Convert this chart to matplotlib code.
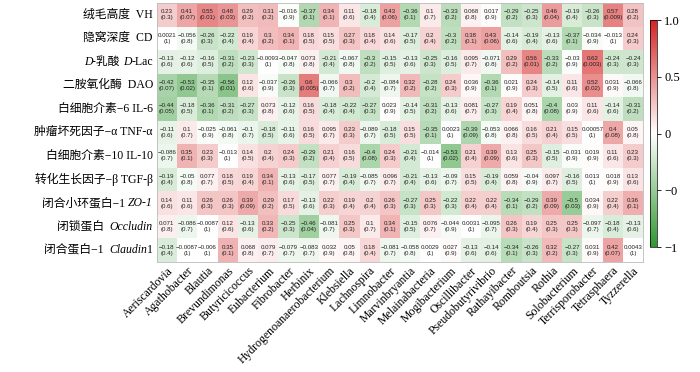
import numpy as np
import matplotlib
matplotlib.use("Agg")
import matplotlib.pyplot as plt
from matplotlib.colors import LinearSegmentedColormap
from matplotlib.offsetbox import TextArea, HPacker, AnnotationBbox

genera = ["Aeriscardovia", "Agathobacter", "Blautia", "Brevundimonas", "Butyricicoccus",
          "Eubacterium", "Fibrobacter", "Herbinix", "Hydrogenoanaerobacterium", "Klebsiella",
          "Lachnospira", "Limnobacter", "Marvinbryantia", "Melainabacteria", "Mogibacterium",
          "Oscillibacter", "Pseudobutyrivibrio", "Rathayibacter", "Romboutsia", "Rothia",
          "Solobacterium", "Terrisporobacter", "Tetrasphaera", "Tyzzerella"]

# (text, italic) pieces for each row label
indices = [
    [("绒毛高度  VH", False)],
    [("隐窝深度  CD", False)],
    [("D", True), ("-乳酸 ", False), ("D", True), ("-Lac", False)],
    [("二胺氧化酶  DAO", False)],
    [("白细胞介素−6 IL-6", False)],
    [("肿瘤坏死因子−α TNF-α", False)],
    [("白细胞介素−10 IL-10", False)],
    [("转化生长因子−β TGF-β", False)],
    [("闭合小环蛋白−1 ", False), ("ZO-1", True)],
    [("闭锁蛋白  ", False), ("Occludin", True)],
    [("闭合蛋白−1  ", False), ("Claudin", True), ("1", False)],
]

r_vh = [0.23, 0.41, 0.55, 0.48, 0.29, 0.31, -0.016, -0.37, 0.34, 0.11, -0.18, 0.43,
        -0.36, 0.1, -0.33, 0.068, 0.017, -0.29, -0.25, 0.46, -0.19, -0.26, 0.57, 0.28]
p_vh = ["0.3", "0.07", "0.01", "0.03", "0.2", "0.2", "0.9", "0.1", "0.1", "0.6", "0.4", "0.06",
        "0.1", "0.7", "0.2", "0.8", "0.9", "0.2", "0.3", "0.04", "0.4", "0.3", "0.009", "0.2"]
r_cd = [0.0021, -0.056, -0.26, -0.22, 0.19, 0.3, 0.34, 0.18, 0.15, 0.27, 0.18, 0.14,
        -0.17, 0.2, -0.3, 0.38, 0.43, -0.14, -0.19, -0.13, -0.37, -0.034, -0.013, 0.24]
p_cd = ["1", "0.8", "0.3", "0.4", "0.4", "0.2", "0.1", "0.5", "0.5", "0.3", "0.4", "0.6",
        "0.5", "0.4", "0.2", "0.1", "0.06", "0.6", "0.4", "0.6", "0.1", "0.9", "1", "0.3"]
r_lac = [-0.13, -0.12, -0.16, -0.31, -0.23, -0.0093, -0.047, 0.073, -0.21, -0.067, -0.3, -0.15,
         -0.13, -0.25, -0.16, 0.095, -0.071, 0.29, 0.56, -0.33, -0.03, 0.62, -0.24, -0.24]
p_lac = ["0.6", "0.6", "0.5", "0.2", "0.3", "1", "0.8", "0.8", "0.4", "0.8", "0.2", "0.5",
         "0.6", "0.3", "0.5", "0.7", "0.8", "0.2", "0.01", "0.2", "0.9", "0.003", "0.3", "0.3"]
r_dao = [-0.42, -0.53, -0.35, -0.56, 0.12, -0.037, -0.26, 0.6, -0.066, 0.3, -0.2, -0.084,
         0.32, -0.28, 0.24, 0.036, -0.36, 0.021, 0.24, -0.14, 0.11, 0.52, 0.031, -0.066]
p_dao = ["0.07", "0.02", "0.1", "0.01", "0.6", "0.9", "0.3", "0.005", "0.7", "0.2", "0.4", "0.7",
         "0.2", "0.2", "0.3", "0.9", "0.1", "0.9", "0.3", "0.5", "0.6", "0.02", "0.9", "0.8"]
r_il6 = [-0.44, -0.18, -0.36, -0.31, -0.27, 0.073, -0.12, 0.16, -0.18, -0.22, -0.27, 0.023,
         -0.14, -0.31, -0.13, 0.081, -0.27, 0.19, 0.051, -0.4, 0.03, 0.11, -0.14, -0.31]
p_il6 = ["0.05", "0.5", "0.1", "0.2", "0.3", "0.8", "0.6", "0.5", "0.4", "0.4", "0.3", "0.9",
         "0.5", "0.2", "0.6", "0.7", "0.3", "0.4", "0.8", "0.08", "0.9", "0.6", "0.6", "0.2"]
r_tnf = [-0.11, 0.1, -0.025, -0.061, -0.1, -0.18, -0.11, 0.16, 0.095, 0.23, -0.089, -0.18,
         0.15, -0.35, 0.0023, -0.39, -0.053, 0.066, 0.16, 0.21, 0.15, 0.00057, 0.4, 0.05]
p_tnf = ["0.6", "0.7", "0.9", "0.8", "0.7", "0.5", "0.6", "0.5", "0.7", "0.3", "0.7", "0.5",
         "0.5", "0.1", "1", "0.09", "0.8", "0.8", "0.5", "0.4", "0.5", "1", "0.08", "0.8"]
r_il10 = [-0.086, 0.35, 0.23, -0.013, 0.14, 0.2, 0.24, -0.29, 0.21, 0.16, -0.4, 0.24,
          -0.21, -0.014, -0.53, 0.21, 0.39, 0.13, 0.25, -0.15, -0.031, 0.019, 0.11, 0.23]
p_il10 = ["0.7", "0.1", "0.3", "1", "0.5", "0.4", "0.3", "0.2", "0.4", "0.5", "0.08", "0.3",
          "0.4", "1", "0.02", "0.4", "0.09", "0.6", "0.3", "0.5", "0.9", "0.9", "0.6", "0.3"]
r_tgf = [-0.19, -0.05, 0.077, 0.18, 0.19, 0.34, -0.13, -0.17, 0.077, -0.19, -0.085, 0.096,
         -0.21, -0.13, -0.09, 0.15, -0.19, 0.059, -0.04, 0.097, -0.16, 0.013, 0.018, 0.13]
p_tgf = ["0.4", "0.8", "0.7", "0.5", "0.4", "0.1", "0.6", "0.5", "0.7", "0.4", "0.7", "0.7",
         "0.4", "0.6", "0.7", "0.5", "0.4", "0.8", "0.9", "0.7", "0.5", "1", "0.9", "0.6"]
r_zo1 = [0.14, 0.11, 0.26, 0.26, 0.39, 0.29, 0.17, -0.13, 0.22, 0.19, 0.2, 0.26,
         -0.27, 0.25, -0.22, 0.22, 0.22, -0.34, -0.29, 0.39, -0.5, 0.034, 0.22, 0.36]
p_zo1 = ["0.6", "0.6", "0.3", "0.3", "0.09", "0.2", "0.5", "0.6", "0.3", "0.4", "0.4", "0.3",
         "0.3", "0.3", "0.3", "0.4", "0.4", "0.1", "0.2", "0.09", "0.03", "0.9", "0.4", "0.1"]
r_occ = [0.071, -0.086, -0.0087, 0.12, -0.13, 0.33, -0.25, -0.46, -0.081, 0.25, 0.1, 0.34,
         -0.15, 0.076, -0.044, 0.0031, -0.095, 0.26, 0.19, 0.25, 0.25, -0.097, -0.18, -0.13]
p_occ = ["0.8", "0.7", "1", "0.6", "0.6", "0.2", "0.3", "0.04", "0.7", "0.3", "0.7", "0.1",
         "0.5", "0.7", "0.9", "1", "0.7", "0.3", "0.4", "0.3", "0.3", "0.7", "0.4", "0.6"]
r_cla = [-0.18, -0.0087, -0.006, 0.35, 0.068, 0.079, -0.079, -0.083, 0.032, 0.05, 0.18, -0.081,
         -0.058, 0.0029, 0.027, -0.13, -0.14, -0.34, -0.26, 0.32, -0.27, 0.031, 0.42, 0.0043]
p_cla = ["0.4", "1", "1", "0.1", "0.8", "0.7", "0.7", "0.7", "0.9", "0.8", "0.4", "0.7",
         "0.8", "1", "0.9", "0.6", "0.6", "0.1", "0.3", "0.2", "0.3", "0.9", "0.07", "1"]

r_rows = [r_vh, r_cd, r_lac, r_dao, r_il6, r_tnf, r_il10, r_tgf, r_zo1, r_occ, r_cla]
p_rows = [p_vh, p_cd, p_lac, p_dao, p_il6, p_tnf, p_il10, p_tgf, p_zo1, p_occ, p_cla]

cbar_ticks = [-1, -0.5, 0, 0.5, 1]
cbar_labels = ["−1", "−0", "0", "0.5", "1.0"]

serif_cjk = ["Liberation Serif", "Noto Sans CJK SC"]
cmap = LinearSegmentedColormap.from_list("gwr", ["#2f962f", "#ffffff", "#d42424"])

R = np.array(r_rows)
nr, nc = R.shape

fig = plt.figure(figsize=(7, 3.72), dpi=100)
ax = fig.add_axes([0.224, 0.296, 0.695, 0.696])
mesh = ax.pcolormesh(np.arange(nc + 1), np.arange(nr + 1), R, cmap=cmap, vmin=-1, vmax=1)
ax.set_xlim(0, nc)
ax.set_ylim(nr, 0)

for i in range(nr):
    for j in range(nc):
        v = R[i, j]
        s = f"{v:.2g}".replace("-", "−")
        ax.text(j + 0.5, i + 0.5, f"{s}\n({p_rows[i][j]})", ha="center", va="center",
                fontsize=4.4, family="Liberation Sans", color="#222222", linespacing=1.25)

ax.set_xticks(np.arange(nc) + 0.5)
ax.set_xticklabels(genera, rotation=45, ha="right", va="top", rotation_mode="anchor",
                   family="Liberation Serif", fontsize=8.5)
ax.set_yticks(np.arange(nr) + 0.5)
ax.set_yticklabels([])
ax.tick_params(length=0, pad=2)
for sp in ax.spines.values():
    sp.set_color("#bbbbbb")
    sp.set_linewidth(0.6)

for i, parts in enumerate(indices):
    boxes = [TextArea(t, textprops=dict(family=serif_cjk, fontsize=8.5,
                                         style="italic" if it else "normal"))
             for t, it in parts]
    pack = HPacker(children=boxes, align="baseline", pad=0, sep=0)
    ab = AnnotationBbox(pack, (-0.008, i + 0.5), xycoords=("axes fraction", "data"),
                        box_alignment=(1, 0.5), frameon=False, pad=0)
    ax.add_artist(ab)

cax = fig.add_axes([0.929, 0.336, 0.010, 0.610])
cb = fig.colorbar(mesh, cax=cax, ticks=cbar_ticks)
cb.ax.set_yticklabels(cbar_labels, family="Liberation Serif", fontsize=9)
cb.ax.tick_params(length=3, width=0.6, pad=2)
cb.outline.set_linewidth(0.5)

fig.savefig("out.png", dpi=100)
